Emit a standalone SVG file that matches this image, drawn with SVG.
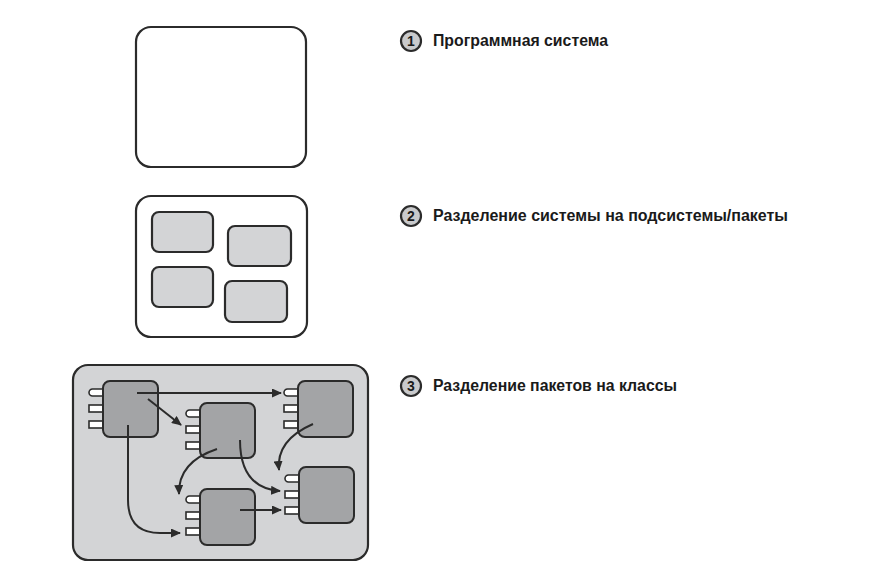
<svg xmlns="http://www.w3.org/2000/svg" width="871" height="572" viewBox="0 0 871 572">
<defs>
<style>
.frame{fill:#fff;stroke:#2b2b2b;stroke-width:2.2}
.pkg{fill:#d3d4d6;stroke:#2b2b2b;stroke-width:2.2}
.cls{fill:#a3a4a6;stroke:#2b2b2b;stroke-width:2}
.port{fill:#fff;stroke:#2b2b2b;stroke-width:1.6}
.conn{fill:none;stroke:#2b2b2b;stroke-width:2;marker-end:url(#ah)}
.num{fill:#c9cacc;stroke:#2b2b2b;stroke-width:2.2}
.numt{font-family:"Liberation Sans Narrow","Liberation Sans",Arial,sans-serif;font-weight:bold;font-size:14px;fill:#1a1a1a;text-anchor:middle}
.lbl{font-family:"Liberation Sans Narrow","Liberation Sans",Arial,sans-serif;font-weight:bold;font-size:16px;fill:#1a1a1a}
</style>
<marker id="ah" viewBox="0 0 10 10" refX="9" refY="5" markerWidth="5" markerHeight="4.5" orient="auto" markerUnits="strokeWidth" preserveAspectRatio="none">
<path d="M0,0 L10,5 L0,10 z" fill="#2b2b2b"/>
</marker>
<symbol id="ports" overflow="visible">
<path class="port" d="M14,0 H3.5 A3.5,3.5 0 0 0 3.5,7 H14 z"/>
<rect class="port" x="0" y="16" width="14" height="7"/>
<rect class="port" x="0" y="32" width="14" height="7"/>
</symbol>
</defs>

<g id="system1">
<rect class="frame" x="136" y="27" width="170" height="140" rx="15"/>
</g>

<g id="system2">
<rect class="frame" x="136" y="196" width="171" height="141" rx="15"/>
<g id="pkgA"><rect class="pkg" x="152" y="212" width="61" height="40" rx="7"/></g>
<g id="pkgB"><rect class="pkg" x="228" y="226" width="63" height="40" rx="7"/></g>
<g id="pkgC"><rect class="pkg" x="152" y="267" width="61" height="40" rx="7"/></g>
<g id="pkgD"><rect class="pkg" x="225" y="281" width="62" height="41" rx="7"/></g>
</g>

<g id="system3">
<rect class="pkg" x="73" y="365" width="295" height="195" rx="15"/>
</g>

<g id="class1"><use href="#ports" x="89" y="389"/><rect class="cls" x="103" y="381" width="55" height="56" rx="7"/></g>
<g id="class2"><use href="#ports" x="186" y="410"/><rect class="cls" x="200" y="403" width="55" height="55" rx="7"/></g>
<g id="class3"><use href="#ports" x="284" y="389"/><rect class="cls" x="298" y="381" width="55" height="56" rx="7"/></g>
<g id="class4"><use href="#ports" x="285" y="475"/><rect class="cls" x="299" y="467" width="55" height="56" rx="7"/></g>
<g id="class5"><use href="#ports" x="186" y="496"/><rect class="cls" x="200" y="489" width="55" height="56" rx="7"/></g>

<g id="connectors">
<path class="conn" d="M137,393 H281"/>
<path class="conn" d="M148,399 L181,425"/>
<path class="conn" d="M128,425 V500 Q128,533 160,533 H180"/>
<path class="conn" d="M217,449 Q178,462 179,494"/>
<path class="conn" d="M240,440 Q240,488 280,491"/>
<path class="conn" d="M313,424 Q276,440 279,470"/>
<path class="conn" d="M240,510 H281"/>
</g>

<g id="label1">
<circle class="num" cx="411" cy="41" r="10"/>
<text class="numt" x="411" y="46">1</text>
<text class="lbl" x="433" y="46" textLength="175" lengthAdjust="spacingAndGlyphs">Программная система</text>
</g>
<g id="label2">
<circle class="num" cx="411" cy="216" r="10"/>
<text class="numt" x="411" y="221">2</text>
<text class="lbl" x="433" y="221" textLength="355" lengthAdjust="spacingAndGlyphs">Разделение системы на подсистемы/пакеты</text>
</g>
<g id="label3">
<circle class="num" cx="411" cy="386" r="10"/>
<text class="numt" x="411" y="391">3</text>
<text class="lbl" x="433" y="391" textLength="244" lengthAdjust="spacingAndGlyphs">Разделение пакетов на классы</text>
</g>
</svg>
